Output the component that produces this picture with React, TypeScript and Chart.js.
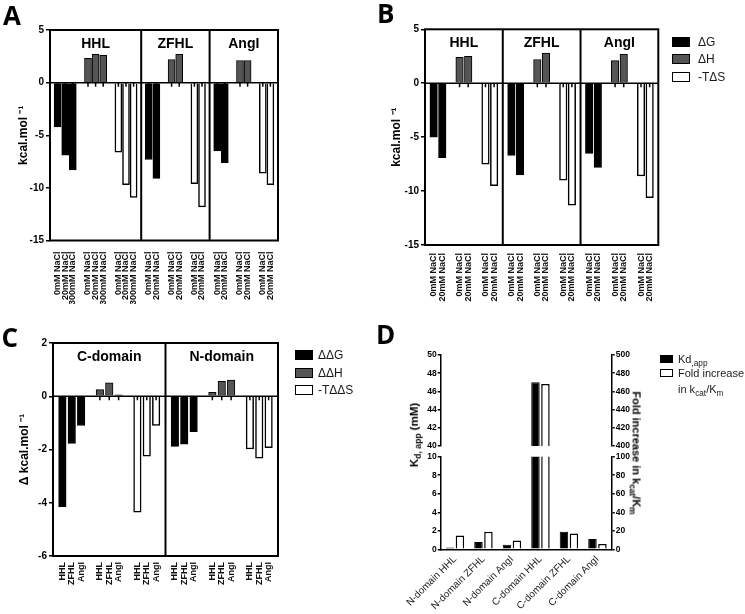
import React, { useEffect, useRef } from 'react';
import { Chart, registerables } from 'chart.js';

Chart.register(...registerables);

const FONT = '"Liberation Sans", Arial, Helvetica, sans-serif';
Chart.defaults.font.family = FONT;
Chart.defaults.color = '#000';

// ---------------- Panel A ----------------
const aSections = ['HHL', 'ZFHL', 'AngI'];
const aConditions = [
  ['0mM NaCl', '20mM NaCl', '300mM NaCl'],
  ['0mM NaCl', '20mM NaCl'],
  ['0mM NaCl', '20mM NaCl'],
];
const aDeltaG = [[-4.2, -6.9, -8.3], [-7.3, -9.1], [-6.5, -7.6]];
const aDeltaH = [[2.3, 2.7, 2.6], [2.2, 2.7], [2.1, 2.1]];
const aMinusTdS = [[-6.6, -9.7, -10.9], [-9.6, -11.8], [-8.6, -9.7]];

// ---------------- Panel B ----------------
const bSections = ['HHL', 'ZFHL', 'AngI'];
const bConditions = [
  ['0mM NaCl', '20mM NaCl'],
  ['0mM NaCl', '20mM NaCl'],
  ['0mM NaCl', '20mM NaCl'],
];
const bDeltaG = [[-5.0, -6.9], [-6.7, -8.5], [-6.5, -7.8]];
const bDeltaH = [[2.4, 2.5], [2.2, 2.8], [2.1, 2.7]];
const bMinusTdS = [[-7.5, -9.5], [-9.0, -11.3], [-8.6, -10.6]];
const bSeriesLabels = ['ΔG', 'ΔH', '-TΔS'];

// ---------------- Panel C ----------------
const cSections = ['C-domain', 'N-domain'];
const cSubstrates = [
  ['HHL', 'ZFHL', 'AngI'],
  ['HHL', 'ZFHL', 'AngI'],
];
const cDeltaDeltaG = [[-4.15, -1.77, -1.1], [-1.88, -1.8, -1.33]];
const cDeltaDeltaH = [[0.25, 0.5, 0.05], [0.15, 0.56, 0.61]];
const cMinusTDeltaDeltaS = [[-4.35, -2.25, -1.1], [-1.98, -2.33, -1.93]];
const cSeriesLabels = ['ΔΔG', 'ΔΔH', '-TΔΔS'];

// ---------------- Panel D ----------------
const dCategories = [
  'N-domain HHL',
  'N-domain ZFHL',
  'N-domain AngI',
  'C-domain HHL',
  'C-domain ZFHL',
  'C-domain AngI',
];
const dKdApp = [0.2, 0.8, 0.5, 47, 1.9, 1.1];
const dFoldIncrease = [15, 19, 9.5, 468, 17, 5.6];
const dKdRanges = [[40, 50], [0, 10]];
const dFoldRanges = [[400, 500], [0, 100]];
const dKdStep = 2;
const dFoldStep = 20;

type Cell = number | null;

function buildSectioned(sections: string[], conds: string[][], series: number[][][]) {
  const labels: string[] = [''];
  const data: Cell[][] = series.map(() => [null]);
  const barIdx: number[] = [];
  const spacers: number[] = [0];
  const push = (label: string, k: number, v: Cell) => {
    labels.push(label);
    data.forEach((d, j) => d.push(j === k ? v : null));
  };
  sections.forEach((_s, si) => {
    series.forEach((ser, k) => {
      if (k > 0) push('', -1, null);
      conds[si].forEach((c, ci) => {
        barIdx.push(labels.length);
        push(c, k, ser[si][ci]);
      });
    });
    spacers.push(labels.length);
    push('', -1, null);
  });
  const titles = sections.map((t, i) => ({ text: t, from: spacers[i], to: spacers[i + 1] }));
  return { labels, data, barIdx, dividers: spacers.slice(1, -1), titles };
}

type Built = ReturnType<typeof buildSectioned>;

function makeFramePlugin(b: Built) {
  return {
    id: 'frame',
    afterDatasetsDraw(chart: any) {
      const { ctx, chartArea: a } = chart;
      const xs = chart.scales.x;
      const ys = chart.scales.y;
      const y0 = ys.getPixelForValue(0);
      ctx.save();
      ctx.strokeStyle = '#000';
      ctx.lineWidth = 1.5;
      ctx.beginPath();
      ctx.moveTo(a.left, y0);
      ctx.lineTo(a.right, y0);
      b.barIdx.forEach((i) => {
        const px = xs.getPixelForValue(i);
        ctx.moveTo(px, y0);
        ctx.lineTo(px, y0 + 4);
      });
      ctx.stroke();
      ctx.lineWidth = 2;
      ctx.beginPath();
      b.dividers.forEach((i) => {
        const px = xs.getPixelForValue(i);
        ctx.moveTo(px, a.top);
        ctx.lineTo(px, a.bottom);
      });
      ctx.stroke();
      ctx.strokeRect(a.left, a.top, a.right - a.left, a.bottom - a.top);
      ctx.fillStyle = '#000';
      ctx.font = `bold 14px ${FONT}`;
      ctx.textAlign = 'center';
      ctx.textBaseline = 'middle';
      b.titles.forEach((t) => {
        const px = (xs.getPixelForValue(t.from) + xs.getPixelForValue(t.to)) / 2;
        ctx.fillText(t.text, px, a.top + 14);
      });
      ctx.restore();
    },
  };
}

const seriesStyles = [
  { bg: '#000000', border: '#000000', bw: 1 },
  { bg: '#555555', border: '#000000', bw: 1 },
  { bg: '#ffffff', border: '#000000', bw: 1.5 },
];

function sectionedConfig(
  b: Built,
  p: {
    seriesLabels: string[];
    yMin: number;
    yMax: number;
    step: number;
    yTitle: string;
    yWidth: number;
    titlePad: number;
    xHeight: number;
    padTop: number;
    padRight: number;
    tickPad: number;
    barThickness: number;
  }
): any {
  return {
    type: 'bar',
    data: {
      labels: b.labels,
      datasets: b.data.map((d, i) => ({
        label: p.seriesLabels[i],
        data: d,
        backgroundColor: seriesStyles[i].bg,
        borderColor: seriesStyles[i].border,
        borderWidth: seriesStyles[i].bw,
        grouped: false,
        barThickness: p.barThickness,
      })),
    },
    options: {
      responsive: false,
      animation: false,
      devicePixelRatio: 1,
      layout: { padding: { left: 0, top: p.padTop, right: p.padRight, bottom: 0 } },
      plugins: { legend: { display: false }, tooltip: { enabled: false } },
      scales: {
        x: {
          type: 'category',
          offset: false,
          grid: { display: false, drawTicks: false },
          border: { display: false },
          ticks: {
            autoSkip: false,
            minRotation: 90,
            maxRotation: 90,
            padding: p.tickPad,
            color: '#111',
            font: { size: 9, weight: 'bold' },
          },
          afterFit: (s: any) => {
            s.height = p.xHeight;
          },
        },
        y: {
          min: p.yMin,
          max: p.yMax,
          ticks: { stepSize: p.step, padding: 2, color: '#000', font: { size: 10, weight: 'bold' } },
          grid: { drawOnChartArea: false, drawTicks: true, tickLength: 4, color: '#000', lineWidth: 1.5 },
          border: { display: false },
          title: {
            display: true,
            text: p.yTitle,
            color: '#000',
            font: { size: 12, weight: 'bold' },
            padding: { top: p.titlePad, bottom: 0 },
          },
          afterFit: (s: any) => {
            s.width = p.yWidth;
          },
        },
      },
    },
    plugins: [makeFramePlugin(b)],
  };
}

function dConfig(part: number, canvasW: number): any {
  const upper = part === 0;
  const [kMin, kMax] = dKdRanges[part];
  const [fMin, fMax] = dFoldRanges[part];
  const tickFont = { size: 8.5, weight: 'bold' };
  const chartLeft = 70.7;
  const rightAxisW = 40;
  const chartRight = 241.7;
  return {
    type: 'bar',
    data: {
      labels: dCategories,
      datasets: [
        {
          label: 'Kd,app',
          data: dKdApp,
          yAxisID: 'y',
          backgroundColor: '#000',
          borderColor: '#000',
          borderWidth: 1,
          categoryPercentage: 0.7,
          barPercentage: 0.85,
          clip: 0,
        },
        {
          label: 'Fold increase in kcat/Km',
          data: dFoldIncrease,
          yAxisID: 'y1',
          backgroundColor: '#fff',
          borderColor: '#000',
          borderWidth: 1.5,
          categoryPercentage: 0.7,
          barPercentage: 0.85,
          clip: 0,
        },
      ],
    },
    options: {
      responsive: false,
      animation: false,
      devicePixelRatio: 1,
      layout: {
        padding: upper
          ? { left: 0, top: 51, right: canvasW - chartRight - rightAxisW, bottom: 5.3 }
          : { left: 0, top: 8.7, right: canvasW - chartRight - rightAxisW, bottom: 0 },
      },
      plugins: { legend: { display: false }, tooltip: { enabled: false } },
      scales: {
        x: upper
          ? { display: false }
          : {
              grid: { display: false, drawTicks: false },
              border: { display: true, width: 1.5, color: '#000' },
              ticks: {
                autoSkip: false,
                minRotation: 45,
                maxRotation: 45,
                padding: 4,
                color: '#222',
                font: { size: 10 },
              },
              afterFit: (s: any) => {
                s.height = 64.7;
              },
            },
        y: {
          position: 'left',
          min: kMin,
          max: kMax,
          ticks: { stepSize: dKdStep, padding: 1, color: '#000', font: tickFont },
          grid: { drawOnChartArea: false, drawTicks: true, tickLength: 3, color: '#000', lineWidth: 1.5 },
          border: { display: true, width: 1.5, color: '#000' },
          afterFit: (s: any) => {
            s.width = chartLeft;
          },
        },
        y1: {
          position: 'right',
          min: fMin,
          max: fMax,
          ticks: { stepSize: dFoldStep, padding: 1, color: '#000', font: tickFont },
          grid: { drawOnChartArea: false, drawTicks: true, tickLength: 3, color: '#000', lineWidth: 1.5 },
          border: { display: true, width: 1.5, color: '#000' },
          afterFit: (s: any) => {
            s.width = rightAxisW;
          },
        },
      },
    },
  };
}

function LegendRow(props: {
  x: number;
  y: number;
  w: number;
  h: number;
  fill: string;
  textX: number;
  fontSize: number;
  children: React.ReactNode;
}) {
  const { x, y, w, h, fill, textX, fontSize, children } = props;
  return (
    <>
      <div
        style={{
          position: 'absolute',
          left: x,
          top: y - h / 2,
          width: w,
          height: h,
          background: fill,
          border: '1.5px solid #000',
          boxSizing: 'border-box',
        }}
      />
      <div
        style={{
          position: 'absolute',
          left: textX,
          top: y - 8,
          height: 16,
          lineHeight: '16px',
          fontSize,
          color: '#1a1a1a',
          whiteSpace: 'nowrap',
        }}
      >
        {children}
      </div>
    </>
  );
}

const letterStyle = (left: number, top: number): React.CSSProperties => ({
  position: 'absolute',
  left,
  top,
  fontFamily: '"Open Sans", "Liberation Sans", Arial, sans-serif',
  fontWeight: 700,
  fontSize: 26,
  lineHeight: '26px',
  color: '#000',
});

export default function App() {
  const refA = useRef<HTMLCanvasElement>(null);
  const refB = useRef<HTMLCanvasElement>(null);
  const refC = useRef<HTMLCanvasElement>(null);
  const refD1 = useRef<HTMLCanvasElement>(null);
  const refD2 = useRef<HTMLCanvasElement>(null);

  useEffect(() => {
    const builtA = buildSectioned(aSections, aConditions, [aDeltaG, aDeltaH, aMinusTdS]);
    const builtB = buildSectioned(bSections, bConditions, [bDeltaG, bDeltaH, bMinusTdS]);
    const builtC = buildSectioned(cSections, cSubstrates, [cDeltaDeltaG, cDeltaDeltaH, cMinusTDeltaDeltaS]);
    const charts: Chart[] = [];
    charts.push(
      new Chart(
        refA.current!,
        sectionedConfig(builtA, {
          seriesLabels: bSeriesLabels,
          yMin: -15,
          yMax: 5,
          step: 5,
          yTitle: 'kcal.mol ⁻¹',
          yWidth: 50,
          titlePad: 16,
          xHeight: 63.5,
          padTop: 30,
          padRight: 92,
          tickPad: 11,
          barThickness: 7,
        })
      )
    );
    charts.push(
      new Chart(
        refB.current!,
        sectionedConfig(builtB, {
          seriesLabels: bSeriesLabels,
          yMin: -15,
          yMax: 5,
          step: 5,
          yTitle: 'kcal.mol ⁻¹',
          yWidth: 55,
          titlePad: 19.5,
          xHeight: 59,
          padTop: 29.3,
          padRight: 86.7,
          tickPad: 8,
          barThickness: 7.5,
        })
      )
    );
    charts.push(
      new Chart(
        refC.current!,
        sectionedConfig(builtC, {
          seriesLabels: cSeriesLabels,
          yMin: -6,
          yMax: 2,
          step: 2,
          yTitle: 'Δ kcal.mol ⁻¹',
          yWidth: 53,
          titlePad: 17.8,
          xHeight: 58,
          padTop: 39,
          padRight: 92,
          tickPad: 6,
          barThickness: 7.5,
        })
      )
    );
    charts.push(new Chart(refD1.current!, dConfig(0, 375)));
    charts.push(new Chart(refD2.current!, dConfig(1, 375)));
    return () => charts.forEach((c) => c.destroy());
  }, []);

  const cv = (left: number, top: number, w: number, h: number): React.CSSProperties => ({
    position: 'absolute',
    left,
    top,
    width: w,
    height: h,
  });

  return (
    <div
      style={{
        position: 'absolute',
        left: 0,
        top: 0,
        width: 745,
        height: 614,
        overflow: 'hidden',
        background: '#fff',
        fontFamily: FONT,
      }}
    >
      <canvas ref={refA} width={370} height={304} style={cv(0, 0, 370, 304)} />
      <canvas ref={refB} width={375} height={304} style={cv(370, 0, 375, 304)} />
      <canvas ref={refC} width={370} height={310} style={cv(0, 304, 370, 310)} />
      <canvas ref={refD1} width={375} height={148} style={cv(370, 304, 375, 148)} />
      <canvas ref={refD2} width={375} height={166} style={cv(370, 448, 375, 166)} />

      <div style={letterStyle(3, 1.9)}>A</div>
      <div style={letterStyle(377, 0.4)}>B</div>
      <div style={letterStyle(1.5, 323.9)}>C</div>
      <div style={letterStyle(376, 321.4)}>D</div>

      {/* Legend B */}
      <LegendRow x={672} y={41.7} w={18} h={10} fill="#000" textX={698} fontSize={12}>
        {bSeriesLabels[0]}
      </LegendRow>
      <LegendRow x={672} y={59.3} w={18} h={10} fill="#555" textX={698} fontSize={12}>
        {bSeriesLabels[1]}
      </LegendRow>
      <LegendRow x={672} y={77.3} w={18} h={10} fill="#fff" textX={698} fontSize={12}>
        {bSeriesLabels[2]}
      </LegendRow>

      {/* Legend C */}
      <LegendRow x={295} y={355} w={18} h={10} fill="#000" textX={318} fontSize={12}>
        {cSeriesLabels[0]}
      </LegendRow>
      <LegendRow x={295} y={372.7} w={18} h={10} fill="#555" textX={318} fontSize={12}>
        {cSeriesLabels[1]}
      </LegendRow>
      <LegendRow x={295} y={390} w={18} h={10} fill="#fff" textX={318} fontSize={12}>
        {cSeriesLabels[2]}
      </LegendRow>

      {/* Legend D */}
      <LegendRow x={660} y={359} w={13} h={8} fill="#000" textX={678} fontSize={11}>
        Kd<sub style={{ fontSize: '75%' }}>,app</sub>
      </LegendRow>
      <LegendRow x={660} y={373} w={13} h={8} fill="#fff" textX={678} fontSize={11}>
        Fold increase
      </LegendRow>
      <div
        style={{
          position: 'absolute',
          left: 678,
          top: 381,
          height: 16,
          lineHeight: '16px',
          fontSize: 11,
          color: '#1a1a1a',
          whiteSpace: 'nowrap',
        }}
      >
        in k<sub style={{ fontSize: '75%' }}>cat</sub>/K<sub style={{ fontSize: '75%' }}>m</sub>
      </div>

      {/* Panel D axis titles */}
      <div
        style={{
          position: 'absolute',
          left: 416,
          top: 435,
          transform: 'translate(-50%, -50%) rotate(-90deg)',
          whiteSpace: 'nowrap',
          fontWeight: 700,
          fontSize: 11.5,
          lineHeight: '14px',
          color: '#000',
        }}
      >
        K<sub style={{ fontSize: '75%' }}>d, app</sub> (mM)
      </div>
      <div
        style={{
          position: 'absolute',
          left: 634,
          top: 453,
          transform: 'translate(-50%, -50%) rotate(90deg)',
          whiteSpace: 'nowrap',
          fontWeight: 700,
          fontSize: 11,
          lineHeight: '14px',
          color: '#000',
        }}
      >
        Fold increase in k<sub style={{ fontSize: '75%' }}>cat</sub>/K<sub style={{ fontSize: '75%' }}>m</sub>
      </div>
    </div>
  );
}
